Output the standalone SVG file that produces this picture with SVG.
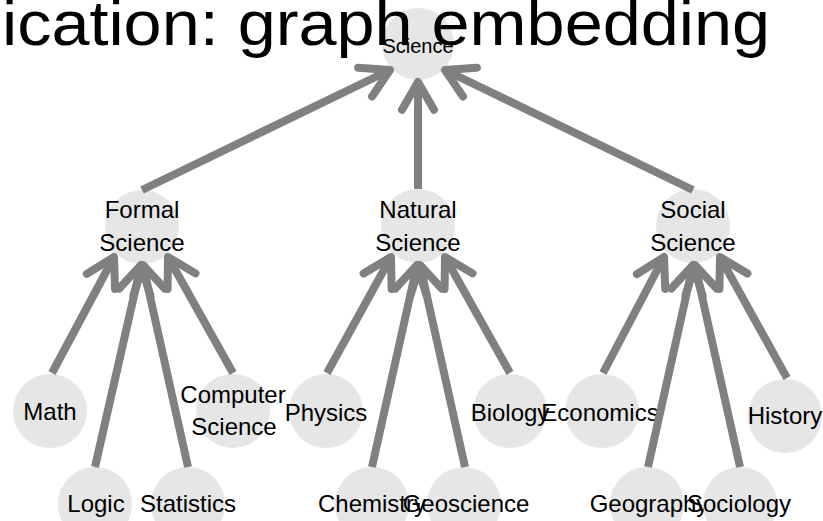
<svg xmlns="http://www.w3.org/2000/svg" width="823" height="521" viewBox="0 0 823 521">
<style>
.node circle{fill:#e6e6e6;stroke:none}
.node text{font-family:"Liberation Sans",Arial,sans-serif;font-size:24px;fill:#000;text-anchor:middle}
.edge{stroke:#808080;stroke-width:8;fill:none;marker-end:url(#ah)}
.title{font-family:"Liberation Sans",Arial,sans-serif;font-size:63px;fill:#000}
</style>
<defs>
<marker id="ah" markerUnits="userSpaceOnUse" viewBox="-40 -25 50 50" refX="0" refY="0" markerWidth="50" markerHeight="50" orient="auto" overflow="visible">
<path d="M-27.7,-16 L0,0 L-27.7,16" fill="none" stroke="#808080" stroke-width="8" stroke-linecap="round" stroke-linejoin="round"/>
</marker>
</defs>
<rect width="823" height="521" fill="#fff"/>
<g id="nodes">
<g id="science" class="node"><circle cx="418" cy="44" r="36"/><text x="418" y="53" style="font-size:20px">Science</text></g>
<g id="formal" class="node"><circle cx="142" cy="227" r="37"/><text x="142" y="218">Formal</text><text x="142" y="251">Science</text></g>
<g id="natural" class="node"><circle cx="418" cy="226" r="37"/><text x="418" y="218">Natural</text><text x="418" y="251">Science</text></g>
<g id="social" class="node"><circle cx="693" cy="226" r="37"/><text x="693" y="218">Social</text><text x="693" y="251">Science</text></g>
<g id="math" class="node"><circle cx="50" cy="411" r="37"/><text x="50" y="420">Math</text></g>
<g id="computer" class="node"><circle cx="233" cy="411" r="37"/><text x="233" y="403">Computer</text><text x="234" y="435">Science</text></g>
<g id="physics" class="node"><circle cx="326" cy="411" r="37"/><text x="326" y="421">Physics</text></g>
<g id="biology" class="node"><circle cx="510" cy="411" r="37"/><text x="510" y="421">Biology</text></g>
<g id="economics" class="node"><circle cx="602" cy="411" r="37"/><text x="600" y="421">Economics</text></g>
<g id="history" class="node"><circle cx="785" cy="416" r="37"/><text x="785" y="424">History</text></g>
<g id="logic" class="node"><circle cx="95" cy="504" r="37"/><text x="96" y="512">Logic</text></g>
<g id="statistics" class="node"><circle cx="188" cy="504" r="37"/><text x="188" y="512">Statistics</text></g>
<g id="chemistry" class="node"><circle cx="372" cy="504" r="37"/><text x="372" y="512">Chemistry</text></g>
<g id="geoscience" class="node"><circle cx="464" cy="504" r="37"/><text x="466" y="512">Geoscience</text></g>
<g id="geography" class="node"><circle cx="647" cy="504" r="37"/><text x="649" y="512">Geography</text></g>
<g id="sociology" class="node"><circle cx="740" cy="504" r="37"/><text x="739" y="512">Sociology</text></g>
</g>
<g id="connectors">
<line class="edge" x1="142" y1="190" x2="390" y2="70"/>
<line class="edge" x1="418" y1="189" x2="418" y2="82"/>
<line class="edge" x1="693" y1="190" x2="445" y2="70"/>
<line class="edge" x1="52" y1="373" x2="114" y2="257"/>
<line class="edge" x1="95" y1="467" x2="141" y2="265"/>
<line class="edge" x1="188" y1="467" x2="143" y2="265"/>
<line class="edge" x1="233" y1="373" x2="168" y2="257"/>
<line class="edge" x1="327" y1="373" x2="391" y2="257"/>
<line class="edge" x1="372" y1="467" x2="417" y2="265"/>
<line class="edge" x1="465" y1="467" x2="420" y2="265"/>
<line class="edge" x1="510" y1="373" x2="445" y2="257"/>
<line class="edge" x1="603" y1="373" x2="664" y2="257"/>
<line class="edge" x1="648" y1="467" x2="693" y2="265"/>
<line class="edge" x1="740" y1="467" x2="695" y2="265"/>
<line class="edge" x1="787" y1="378" x2="720" y2="257"/>
</g>
<text class="title" x="2" y="45" textLength="768" lengthAdjust="spacingAndGlyphs">ication: graph embedding</text>
</svg>
